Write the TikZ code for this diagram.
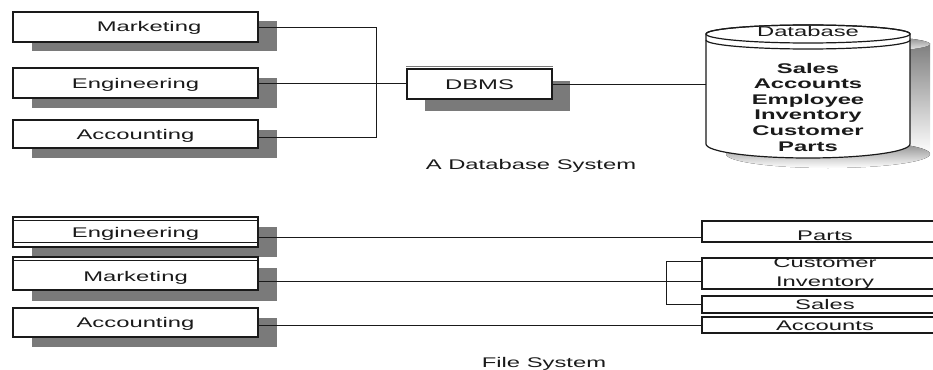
\documentclass[tikz,border=0pt]{standalone}
\usepackage{fontspec}
\setmainfont{Liberation Sans}[FakeStretch=1.7]
\usetikzlibrary{shadows}
\definecolor{shade}{HTML}{7A7A7A}
\definecolor{ink}{HTML}{1A1A1A}
\begin{document}
\begin{tikzpicture}[x=1pt,y=-1pt,
  txt/.style={font=\fontsize{14}{15.6}\selectfont, text=ink, text height=10pt, text depth=0pt},
  shad/.style 2 args={drop shadow={shadow xshift=#1pt, shadow yshift=-#2pt, fill=shade, opacity=1}},
  lbox/.style={txt, draw=ink, line width=1.4pt, fill=white, inner sep=0pt, minimum width=245pt},
  rbox/.style={txt, draw=ink, line width=1.1pt, fill=white, inner sep=0pt, minimum width=246pt},
  wire/.style={draw=ink, line width=0.9pt},
  inner/.style={draw=ink, line width=0.7pt}
]
\useasboundingbox (0,0) rectangle (933,369);
\clip (0,0) rectangle (933,369);
\fill[white] (0,0) rectangle (933,369);

% ---------- Database system ----------
\node[lbox, shad={18.5}{9.5}, minimum height=30pt] (mk1) at (135.5,27) {\hspace*{27pt}Marketing};
\node[lbox, shad={18.5}{9.5}, minimum height=30pt] (en1) at (135.5,83) {Engineering};
\node[lbox, shad={18.5}{10}, minimum height=28pt] (ac1) at (135.5,134) {Accounting};
\node[lbox, shad={18}{12}, minimum width=145pt, minimum height=30pt] (dbms) at (479.5,84) {DBMS};
\draw[draw=shade, line width=0.8pt] ([yshift=1.6pt]dbms.north west) -- ([yshift=1.6pt]dbms.north east);

\coordinate (j) at (376,0);
\coordinate (ya) at (0,137);
\draw[wire] (mk1.east) -- (mk1.east -| j) -- (ya -| j) -- (ya -| ac1.east);
\draw[wire] (en1.east) -- (en1.east -| dbms.west);

% cylinder shadow (union of simple shapes)
\fill[shade] (726,44) rectangle (930,154);
\fill[shade] (828,154) ellipse[x radius=102pt, y radius=14pt];
\fill[shade] (828,44) ellipse[x radius=102pt, y radius=9pt];
% cylinder
\filldraw[fill=white, draw=ink, line width=1.2pt] (706,34) -- (706,144)
  arc[start angle=180, end angle=360, x radius=102pt, y radius=14pt]
  -- (910,34) arc[start angle=0, end angle=180, x radius=102pt, y radius=9pt] -- cycle;
\draw[draw=ink, line width=1.2pt] (808,34) ellipse[x radius=102pt, y radius=9pt];
\draw[draw=ink, line width=1.2pt] (706,40) arc[start angle=180, end angle=360, x radius=102pt, y radius=9pt];
\node[inner sep=0pt, minimum width=204pt, minimum height=120pt] (db) at (808,90) {};
\node[txt] (dbt) at (808,32) {Database};
\node[font=\fontsize{14}{15.6}\selectfont\bfseries, text=ink, align=center, inner sep=0pt] (dbl) at (808,107)
  {Sales\\Accounts\\Employee\\Inventory\\Customer\\Parts};
\draw[wire] (dbms.east) -- (dbms.east -| db.west);

\node[txt] (cap1) at (531,164) {A Database System};

% ---------- File system ----------
\node[lbox, shad={18.5}{10}, minimum height=30pt] (en2) at (135.5,232) {Engineering};
\node[lbox, shad={18.5}{11}, minimum height=33pt] (mk2) at (135.5,273.5) {\raisebox{-2.5pt}{Marketing}};
\node[lbox, shad={18.5}{10}, minimum height=29pt] (ac2) at (135.5,322.5) {Accounting};
\draw[inner] ([yshift=-4pt]en2.north west) -- ([yshift=-4pt]en2.north east);
\draw[inner] ([yshift=5pt]en2.south west) -- ([yshift=5pt]en2.south east);
\draw[inner] ([yshift=-4pt]mk2.north west) -- ([yshift=-4pt]mk2.north east);

\node[rbox, minimum height=21pt] (parts) at (825,231.5) {\raisebox{-3.5pt}{Parts}};
\node[rbox, minimum height=31pt] (ci) at (825,273.5) {};
\node[txt] (cu) at (825,262) {Customer};
\node[txt] (inv) at (825,281) {Inventory};
\node[rbox, minimum height=17pt] (sales) at (825,304.5) {Sales};
\node[rbox, minimum height=16pt] (acc) at (825,325) {Accounts};

\coordinate (ye) at (0,237);
\coordinate (ym) at (0,281);
\coordinate (yc) at (0,261);
\coordinate (br) at (666,0);
\draw[wire] (ye -| en2.east) -- (ye -| parts.west);
\draw[wire] (ym -| mk2.east) -- (ym -| ci.west);
\draw[wire] (acc.west -| ac2.east) -- (acc.west);
\draw[wire] (yc -| ci.west) -- (yc -| br) -- (sales.west -| br) -- (sales.west);

\node[txt] (cap2) at (544,362) {File System};
\end{tikzpicture}
\end{document}
